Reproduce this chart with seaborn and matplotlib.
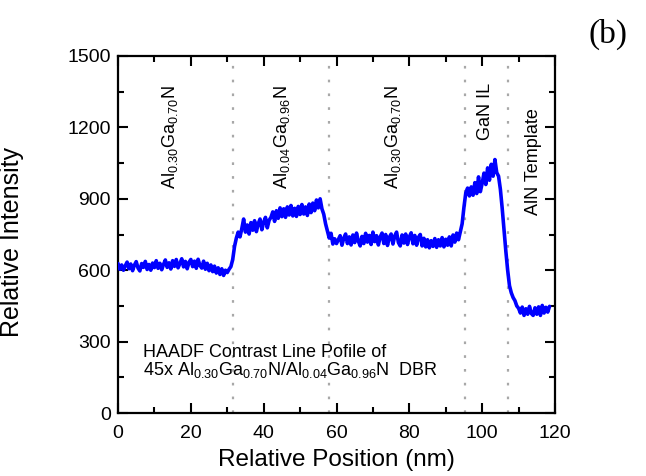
import numpy as np
import pandas as pd
import matplotlib
matplotlib.use("Agg")
import matplotlib.pyplot as plt
import seaborn as sns

step_nm = 0.5
seg_algan1 = [628, 604, 622, 600, 619, 634, 606, 626, 598, 621, 636, 609, 597, 628, 612, 637,
              603, 624, 600, 630, 611, 640, 608, 629, 602, 624, 643, 612, 631, 605, 640, 616,
              645, 610, 628, 648, 614, 637, 606, 633, 645, 615, 638, 608, 646, 620, 609, 638,
              604, 629, 598, 622, 594, 617, 588, 610, 582, 606, 578, 600, 590, 604]
seg_algan2 = [615, 645, 700, 735, 760, 740, 775, 815, 760,
              790, 752, 800, 768, 808, 762, 795, 815, 770, 802, 822, 778, 810,
              822, 845, 805, 850, 818, 862, 825, 858, 822, 866, 832, 872, 828, 860,
              826, 868, 834, 876, 836, 866, 830, 878, 842, 882, 850, 895, 862, 900, 858,
              835, 795, 765, 735, 755, 710, 732]
seg_algan3 = [712, 728, 745, 705, 735, 752, 712, 740, 706, 748,
              716, 756, 722, 702, 742, 712, 755, 718, 746, 708,
              760, 720, 745, 706, 740, 756, 712, 750, 704, 738,
              752, 710, 744, 760, 716, 702, 748, 714, 752, 708,
              740, 757, 711, 746, 705, 738, 750, 702, 734, 698,
              728, 694, 724, 700, 733, 696, 728, 702, 737, 698,
              730, 705, 740, 702, 748, 718, 756, 728, 762]
seg_gan = [795, 865, 925, 945, 912, 950, 915, 968, 922, 992, 930, 965, 1008, 960,
           1030, 978, 1045, 995, 1065, 1010, 995]
seg_aln = [940, 860, 770, 680, 600, 535, 505, 485, 472, 450, 440, 420, 445, 410, 438,
           415, 448, 418, 410, 442, 415, 446, 410, 452, 420, 444, 424, 448]

intensity = seg_algan1 + seg_algan2 + seg_algan3 + seg_gan + seg_aln
position = np.arange(len(intensity)) * step_nm

boundaries = [31.5, 58.0, 95.3, 107.0]
layer_labels = ["Al$_{0.30}$Ga$_{0.70}$N", "Al$_{0.04}$Ga$_{0.96}$N", "Al$_{0.30}$Ga$_{0.70}$N",
                "GaN IL", "AlN Template"]
layer_label_x = [14.3, 45.0, 75.5, 100.8, 114.0]
layer_label_y = [1160, 1160, 1160, 1265, 1055]

x_ticks = [0, 20, 40, 60, 80, 100, 120]
y_ticks = [0, 300, 600, 900, 1200, 1500]

df = pd.DataFrame({"Relative Position (nm)": position, "Relative Intensity": intensity})

# ---- style ----
sns.set_theme(style="ticks")
plt.rcParams["font.family"] = ["Liberation Sans", "DejaVu Sans"]
plt.rcParams["mathtext.fontset"] = "custom"
plt.rcParams["mathtext.rm"] = "Liberation Sans"
plt.rcParams["mathtext.it"] = "Liberation Sans:italic"
plt.rcParams["mathtext.bf"] = "Liberation Sans:bold"

fig = plt.figure(figsize=(6.46, 4.76), dpi=100)
ax = fig.add_axes([118 / 646, 1 - 413 / 476, (555 - 118) / 646, (413 - 56) / 476])

for b in boundaries:
    ax.axvline(b, color="#A8A8A8", linewidth=1.6, linestyle=(0, (1.2, 5.0)), zorder=1)

sns.lineplot(data=df, x="Relative Position (nm)", y="Relative Intensity", ax=ax,
             color="#0000FF", linewidth=2.6, estimator=None, sort=False, zorder=3)

ax.set_xlim(0, 120)
ax.set_ylim(0, 1500)
ax.set_xticks(x_ticks)
ax.set_yticks(y_ticks)
ax.set_xticks(np.arange(0, 121, 10), minor=True)
ax.set_yticks(np.arange(0, 1501, 150), minor=True)
ax.tick_params(axis="both", which="both", direction="in", top=True, right=True,
               colors="black", labelsize=14)
ax.tick_params(axis="both", which="major", length=7, width=1.5)
ax.tick_params(axis="both", which="minor", length=4, width=1.5)
ax.tick_params(axis="x", which="major", pad=9)
ax.tick_params(axis="y", which="major", pad=5)
for sp in ax.spines.values():
    sp.set_linewidth(1.6)
    sp.set_color("black")
    sp.set_visible(True)

ax.set_xlabel("Relative Position (nm)", fontsize=17.5, color="black")
ax.set_ylabel("Relative Intensity", fontsize=18, color="black")
ax.xaxis.set_label_coords(0.5, -0.10)
ax.yaxis.set_label_coords(-0.215, 0.48)

for lab, lx, ly in zip(layer_labels, layer_label_x, layer_label_y):
    ax.text(lx, ly, lab, rotation=90, ha="center", va="center", fontsize=13, color="black")

ax.text(6.9, 256, "HAADF Contrast Line Pofile of", ha="left", va="center", fontsize=13, color="black")
ax.text(6.9, 181, "45x Al$_{0.30}$Ga$_{0.70}$N/Al$_{0.04}$Ga$_{0.96}$N  DBR",
        ha="left", va="center", fontsize=13, color="black")

fig.text(608 / 646, 1 - 34 / 476, "(b)", ha="center", va="center", fontsize=24,
         family=["Liberation Serif", "DejaVu Serif"], color="black")

fig.savefig("out.png", dpi=100, facecolor="white")
